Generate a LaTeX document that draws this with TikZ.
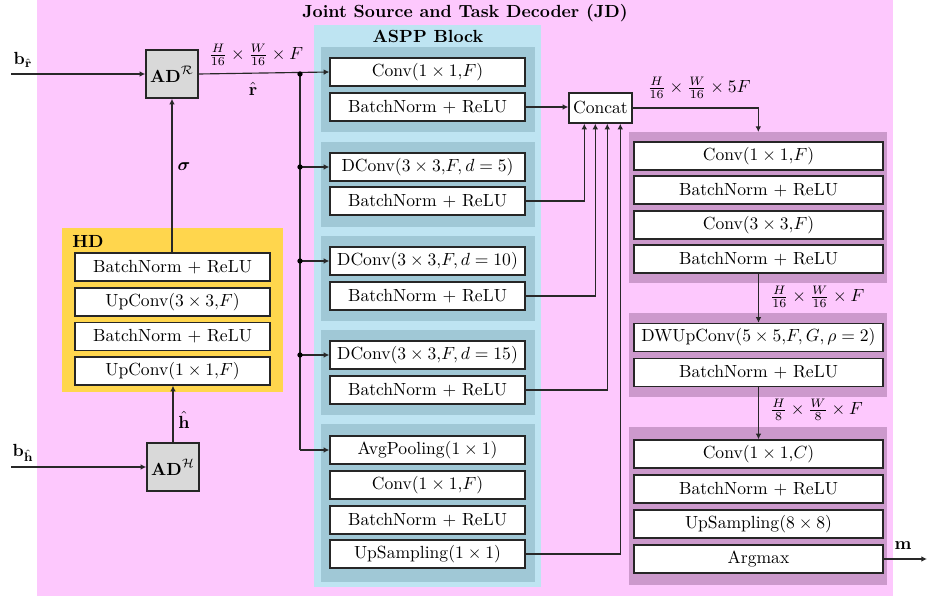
\documentclass[tikz,border=0pt]{standalone}
\usepackage{amsmath,amssymb}
\usetikzlibrary{arrows.meta,calc}

\definecolor{jdpink}{RGB}{253,200,253}
\definecolor{asppblue}{RGB}{190,228,242}
\definecolor{asppgrp}{RGB}{160,200,214}
\definecolor{decpurple}{RGB}{204,153,204}
\definecolor{hdyellow}{RGB}{255,214,77}
\definecolor{adgray}{RGB}{217,217,217}
\definecolor{wire}{RGB}{40,40,40}

\tikzset{
  layer/.style={draw=black!85, line width=0.8pt, fill=white, inner sep=0pt,
    minimum height=0.56cm, minimum width=3.9cm},
  widelayer/.style={layer, minimum width=4.98cm},
  adbox/.style={draw=black!85, line width=0.9pt, fill=adgray, inner sep=0pt,
    minimum width=1.04cm, minimum height=0.96cm},
  panel/.style={draw=none, inner sep=0pt, anchor=north west},
  wirearrow/.style={draw=wire, line width=0.65pt, -{Latex[length=3.2pt,width=3.2pt]}},
  wireline/.style={draw=wire, line width=0.65pt},
  junction/.style={circle, fill=black, inner sep=0pt, minimum size=3pt},
}

\begin{document}
\begin{tikzpicture}[x=0.02cm,y=-0.02cm]
\useasboundingbox (0,0) rectangle (927,597);

% ---------- background panels ----------
\node[panel, fill=jdpink, minimum width=17.12cm, minimum height=11.92cm] (jd) at (37,0) {};
\node at (465,13) {\textbf{Joint Source and Task Decoder (JD)}};

\node[panel, fill=asppblue, minimum width=4.54cm, minimum height=11.24cm] (aspp) at (314,25) {};
\node at (428,36) {\textbf{ASPP Block}};

\node[panel, fill=asppgrp, minimum width=4.28cm, minimum height=1.70cm] (g1) at (321,47) {};
\node[panel, fill=asppgrp, minimum width=4.28cm, minimum height=1.70cm] (g2) at (321,142) {};
\node[panel, fill=asppgrp, minimum width=4.28cm, minimum height=1.70cm] (g3) at (321,236) {};
\node[panel, fill=asppgrp, minimum width=4.28cm, minimum height=1.70cm] (g4) at (321,330) {};
\node[panel, fill=asppgrp, minimum width=4.28cm, minimum height=3.16cm] (g5) at (321,424) {};

\node[panel, fill=decpurple, minimum width=5.16cm, minimum height=3.02cm] (pb1) at (629,132) {};
\node[panel, fill=decpurple, minimum width=5.16cm, minimum height=1.68cm] (pb2) at (629,313) {};
\node[panel, fill=decpurple, minimum width=5.16cm, minimum height=3.16cm] (pb3) at (629,427) {};

\node[panel, fill=hdyellow, minimum width=4.42cm, minimum height=3.28cm] (hd) at (62,228) {};
\node at (88,241) {\textbf{HD}};

% ---------- ASPP layers ----------
\node[layer] (a1) at (427.5,72) {Conv$(1\times 1,\!F)$};
\node[layer] (a2) at (427.5,107) {BatchNorm $+$ ReLU};
\node[layer] (b1) at (427.5,167) {DConv$(3\times 3,\!F,d=5)$};
\node[layer] (b2) at (427.5,201) {BatchNorm $+$ ReLU};
\node[layer] (c1) at (427.5,261) {DConv$(3\times 3,\!F,d=10)$};
\node[layer] (c2) at (427.5,296) {BatchNorm $+$ ReLU};
\node[layer] (d1) at (427.5,355) {DConv$(3\times 3,\!F,d=15)$};
\node[layer] (d2) at (427.5,390) {BatchNorm $+$ ReLU};
\node[layer] (e1) at (427.5,450) {AvgPooling$(1\times 1)$};
\node[layer] (e2) at (427.5,485) {Conv$(1\times 1,\!F)$};
\node[layer] (e3) at (427.5,520) {BatchNorm $+$ ReLU};
\node[layer] (e4) at (427.5,554) {UpSampling$(1\times 1)$};

% ---------- concat ----------
\node[draw=black!85, line width=0.8pt, fill=white, inner sep=0pt,
      minimum width=1.26cm, minimum height=0.6cm] (cat) at (600.5,108) {Concat};

% ---------- decoder layers ----------
\node[widelayer] (r1) at (758.5,156) {Conv$(1\times 1,\!F)$};
\node[widelayer] (r2) at (758.5,190) {BatchNorm $+$ ReLU};
\node[widelayer] (r3) at (758.5,225) {Conv$(3\times 3,\!F)$};
\node[widelayer] (r4) at (758.5,259) {BatchNorm $+$ ReLU};
\node[widelayer] (r5) at (758.5,337.5) {DWUpConv$(5\times 5,\!F,G,\rho=2)$};
\node[widelayer] (r6) at (758.5,372.5) {BatchNorm $+$ ReLU};
\node[widelayer] (s1) at (758.5,454) {Conv$(1\times 1,\!C)$};
\node[widelayer] (s2) at (758.5,489) {BatchNorm $+$ ReLU};
\node[widelayer] (s3) at (758.5,524) {UpSampling$(8\times 8)$};
\node[widelayer] (s4) at (758.5,559) {Argmax};

% ---------- HD layers ----------
\node[layer] (h1) at (172.5,267) {BatchNorm $+$ ReLU};
\node[layer] (h2) at (172.5,302) {UpConv$(3\times 3,\!F)$};
\node[layer] (h3) at (172.5,336.5) {BatchNorm $+$ ReLU};
\node[layer] (h4) at (172.5,371) {UpConv$(1\times 1,\!F)$};

% ---------- AD blocks ----------
\node[adbox] (adr) at (172,74) {$\mathbf{AD}^{\mathcal{R}}$};
\node[adbox] (adh) at (173,467) {$\mathbf{AD}^{\mathcal{H}}$};

% ---------- inputs ----------
\coordinate (rin) at (11,74);
\coordinate (hin) at (11,467);
\draw[wirearrow] (rin) -- (adr.west);
\draw[wirearrow] (hin) -- (adh.west);
\node at (23,60) {$\mathbf{b}_{\hat{\mathbf{r}}}$};
\node at (23,453) {$\mathbf{b}_{\hat{\mathbf{h}}}$};

% ---------- HD connections ----------
\draw[wirearrow] (adh.north) -- (adh.north |- h4.south);
\node at (184,420) {$\hat{\mathbf{h}}$};
\draw[wirearrow] (h1.north -| adr.south) -- (adr.south);
\node at (184,167) {$\boldsymbol{\sigma}$};

% ---------- feature bus into ASPP ----------
\coordinate (bus) at (300,74);
\draw[wirearrow] (adr.east) -- (a1.west);
\node at (256,55) {$\frac{H}{16}\times\frac{W}{16}\times F$};
\node at (253,89) {$\hat{\mathbf{r}}$};
\draw[wireline] (bus) -- (bus |- e1.west);
\draw[wirearrow] (bus |- e1.west) -- (e1.west);
\draw[wirearrow] (bus |- b1.west) -- (b1.west);
\draw[wirearrow] (bus |- c1.west) -- (c1.west);
\draw[wirearrow] (bus |- d1.west) -- (d1.west);
\node[junction] at (bus) {};
\node[junction] at (bus |- b1.west) {};
\node[junction] at (bus |- c1.west) {};
\node[junction] at (bus |- d1.west) {};

% ---------- branches into concat ----------
\draw[wirearrow] (a2.east) -- (a2.east -| cat.west);
\draw[wirearrow] (b2.east) -| ([xshift=0.32cm]cat.south west);
\draw[wirearrow] (c2.east) -| ([xshift=0.54cm]cat.south west);
\draw[wirearrow] (d2.east) -| ([xshift=0.78cm]cat.south west);
\draw[wirearrow] (e4.east) -| ([xshift=1.04cm]cat.south west);

% ---------- decoder path ----------
\draw[wirearrow] (cat.east) -| (pb1.north);
\node at (699,88) {$\frac{H}{16}\times\frac{W}{16}\times 5F$};
\draw[wirearrow] (r4.south) -- (r5.north);
\node[anchor=west] at (764,297) {$\frac{H}{16}\times\frac{W}{16}\times F$};
\draw[wirearrow] (r6.south) -- (s1.north);
\node[anchor=west] at (764,410) {$\frac{H}{8}\times\frac{W}{8}\times F$};

\coordinate (mout) at (927,559);
\draw[wirearrow] (s4.east) -- (mout);
\node at (903,546) {$\mathbf{m}$};
\end{tikzpicture}
\end{document}
